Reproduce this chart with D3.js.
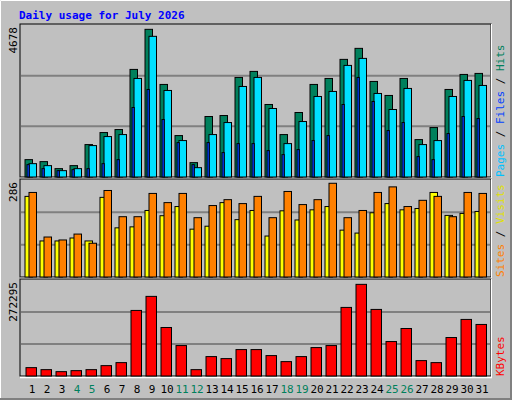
<!DOCTYPE html>
<html><head><meta charset="utf-8">
<script src="https://cdn.jsdelivr.net/npm/d3@7"></script>
<style>body{margin:0;background:#fff}</style>
</head><body>
<script>
// webalizer style daily usage
const days = d3.range(1, 32)
const weekend = [4, 5, 11, 12, 18, 19, 25, 26]
const hits = [550,487,265,360,1027,1408,1503,3408,4678,2932,1312,455,1916,1947,3154,3345,2297,1344,2043,2932,3122,3726,4075,3027,2583,3122,1185,1566,2773,3249,3281]
const files = [423,360,201,265,995,1281,1344,3122,4456,2741,1154,296,1344,1725,2868,3154,2170,1058,1757,2551,2710,3535,3757,2646,2138,2805,1027,1154,2551,3059,2900]
const pages = [392,265,201,233,265,423,550,2202,2773,1820,1090,392,1090,773,1058,1058,836,709,868,1154,1312,2297,3154,2392,1471,1725,646,550,1376,1916,1852]
const sites = [246,110,110,119,110,243,150,153,203,187,215,146,155,227,175,203,125,202,174,205,215,143,134,196,224,205,209,258,188,194,200]
const visits = [258,122,113,131,103,264,184,184,255,227,255,181,218,236,224,246,181,261,221,236,286,181,203,258,275,215,234,246,184,258,255]
const kbytes = [24848,18884,12920,15902,18884,30812,39759,194805,236553,144102,90427,18884,57663,51699,78499,78499,60645,42741,57663,84463,90427,203752,272295,197787,102355,141120,45723,39759,114283,168058,153145]

const W = 512, H = 400
const svg = d3.select("body").append("svg").attr("width", W).attr("height", H)
  .style("font-family", "DejaVu Sans Mono, monospace")

// frame
svg.append("rect").attr("width", W).attr("height", H).attr("fill", "#c0c0c0")
svg.append("path").attr("d", `M0.5,${H-0.5}V0.5H${W-0.5}`).attr("fill", "none").attr("stroke", "#fff")
svg.append("path").attr("d", `M${W-1},0V${H-1}H0`).attr("fill", "none").attr("stroke", "#808080").attr("stroke-width", 2)

svg.append("text").attr("x", 19).attr("y", 19).attr("fill", "#0000ff")
  .attr("font-weight", "bold").attr("font-size", 11).text("Daily usage for July 2026")

const X0 = 20, X1 = 491
const x = d3.scaleBand().domain(days).range([20, 485])

const panels = [
  {top: 25, bot: 177, max: 4815},
  {top: 180, bot: 277, max: 296},
  {top: 280, bot: 376, max: 285214}
]
panels.forEach(p => {
  p.y = d3.scaleLinear().domain([0, p.max]).range([p.bot, p.top])
  svg.append("rect").attr("x", X0).attr("y", p.top - 1).attr("width", X1 - X0).attr("height", p.bot - p.top + 1)
    .attr("fill", "#c0c0c0").attr("stroke", "#000")
  const span = p.bot - p.top
  ;[1, 2].forEach(k => svg.append("line").attr("x1", X0 + 1).attr("x2", X1 - 1)
    .attr("y1", p.bot - span * k / 3).attr("y2", p.bot - span * k / 3).attr("stroke", "#808080").attr("stroke-width", 2))
  svg.append("line").attr("x1", X0).attr("x2", X1 + 1).attr("y1", p.bot + 1.5).attr("y2", p.bot + 1.5).attr("stroke", "#fff").attr("stroke-width", 1.5)
  svg.append("line").attr("x1", X1 + 0.5).attr("x2", X1 + 0.5).attr("y1", p.top - 1).attr("y2", p.bot + 1).attr("stroke", "#fff")
})

function bars(p, vals, off, w, color) {
  svg.append("g").selectAll("rect").data(vals).join("rect")
    .attr("x", (d, i) => x(days[i]) + off).attr("width", w)
    .attr("y", d => p.y(d)).attr("height", d => p.bot - p.y(d))
    .attr("fill", color).attr("stroke", "#000").attr("stroke-width", 1)
}
bars(panels[0], hits, 5, 7.5, "#00805c")
bars(panels[0], files, 9, 7.5, "#00e0ff")
bars(panels[0], pages, 7, 2.3, "#0040ff")
bars(panels[1], sites, 5, 7.5, "#ffff00")
bars(panels[1], visits, 9, 7.5, "#ff8000")
bars(panels[2], kbytes, 6, 10.5, "#ff0000")

// day labels
svg.append("g").selectAll("text").data(days).join("text")
  .attr("x", d => x(d) + 12).attr("y", 393).attr("text-anchor", "middle").attr("font-size", 11)
  .attr("fill", d => weekend.includes(d) ? "#00805c" : "#000").text(d => d)

// max labels, rotated
const maxLabels = [[4678, 25], [286, 180], [272295, 280]]
maxLabels.forEach(([v, t]) => svg.append("text").attr("transform", `translate(17,${t + 2}) rotate(-90)`)
  .attr("text-anchor", "end").attr("font-size", 11).attr("fill", "#000").text(v))

// legends on the right, reading upward
function legend(parts, yb) {
  const t = svg.append("text").attr("transform", `translate(504,${yb}) rotate(-90)`).attr("font-size", 11)
  parts.forEach(([s, c]) => t.append("tspan").attr("fill", c).text(s))
}
legend([["Pages", "#00c0ff"], [" / ", "#000"], ["Files", "#0040ff"], [" / ", "#000"], ["Hits", "#00805c"]], 177)
legend([["Sites", "#ff8000"], [" / ", "#000"], ["Visits", "#e0e000"]], 277)
legend([["KBytes", "#ff0000"]], 376)
</script>
</body></html>
